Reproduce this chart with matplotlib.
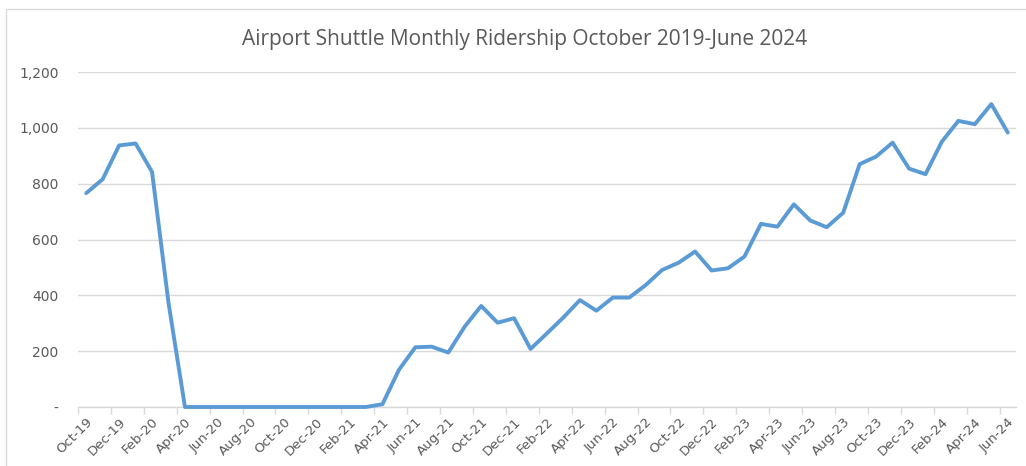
import matplotlib
matplotlib.use("Agg")
import matplotlib.pyplot as plt
from matplotlib.patches import Rectangle
from matplotlib.ticker import FuncFormatter, FixedLocator

months = ["Oct-19", "Nov-19", "Dec-19", "Jan-20", "Feb-20", "Mar-20", "Apr-20", "May-20",
          "Jun-20", "Jul-20", "Aug-20", "Sep-20", "Oct-20", "Nov-20", "Dec-20", "Jan-21",
          "Feb-21", "Mar-21", "Apr-21", "May-21", "Jun-21", "Jul-21", "Aug-21", "Sep-21",
          "Oct-21", "Nov-21", "Dec-21", "Jan-22", "Feb-22", "Mar-22", "Apr-22", "May-22",
          "Jun-22", "Jul-22", "Aug-22", "Sep-22", "Oct-22", "Nov-22", "Dec-22", "Jan-23",
          "Feb-23", "Mar-23", "Apr-23", "May-23", "Jun-23", "Jul-23", "Aug-23", "Sep-23",
          "Oct-23", "Nov-23", "Dec-23", "Jan-24", "Feb-24", "Mar-24", "Apr-24", "May-24",
          "Jun-24"]
ridership = [766, 816, 937, 944, 842, 373, 0, 0,
             0, 0, 0, 0, 0, 0, 0, 0,
             0, 0, 10, 133, 214, 216, 195, 288,
             362, 302, 318, 208, 264, 321, 383, 345,
             392, 392, 437, 491, 517, 557, 489, 497,
             539, 656, 646, 726, 668, 644, 696, 870,
             897, 947, 854, 834, 951, 1025, 1013, 1085,
             983]
y_ticks = [0, 200, 400, 600, 800, 1000, 1200]
title = "Airport Shuttle Monthly Ridership October 2019-June 2024"

W, H = 1026, 466
fig = plt.figure(figsize=(W / 100, H / 100), dpi=100)
fig.patch.set_facecolor("white")
fig.patches.append(Rectangle((6 / W, -10 / H), 1.2, (H - 9.5 + 10) / H, transform=fig.transFigure,
                             fill=False, edgecolor="#D9D9D9", linewidth=1.0))

left, right, top, bottom = 78, 1016, 72, 407
ax = fig.add_axes([left / W, (H - bottom) / H, (right - left) / W, (bottom - top) / H])

x = list(range(len(months)))
ax.plot(x, ridership, color="#5B9BD5", linewidth=2.8, solid_joinstyle="round",
        solid_capstyle="round", zorder=3, clip_on=False)

ax.set_xlim(-0.5, len(months) - 0.5)
ax.set_ylim(0, 1200)
ax.set_yticks(y_ticks)
ax.yaxis.set_major_formatter(FuncFormatter(lambda v, p: "-" if v == 0 else f"{int(v):,}"))
ax.grid(axis="y", color="#D9D9D9", linewidth=1.0, zorder=0)
ax.set_axisbelow(True)

ax.set_xticks(x[::2])
ax.set_xticklabels(months[::2], rotation=45, ha="right", va="top", rotation_mode="anchor")
ax.xaxis.set_minor_locator(FixedLocator([i - 0.5 for i in x[::2]]))
ax.tick_params(axis="x", which="major", length=0, pad=6, labelsize=9.5, labelcolor="#595959")
ax.tick_params(axis="x", which="minor", length=5, width=1, color="#D9D9D9", direction="out")
ax.tick_params(axis="y", length=0, pad=14, labelsize=10, labelcolor="#595959")

for s in ["top", "right", "left"]:
    ax.spines[s].set_visible(False)
ax.spines["bottom"].set_color("#D9D9D9")
ax.spines["bottom"].set_linewidth(1.0)

fig.text(525 / W, (H - 40) / H, title, ha="center", va="center", fontsize=15,
         color="#595959", family="Open Sans")

fig.savefig("out.png", dpi=100, facecolor="white")
